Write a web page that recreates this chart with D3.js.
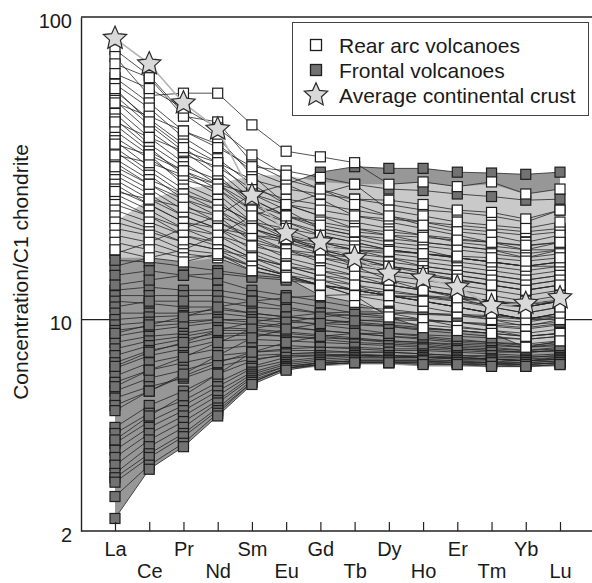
<!DOCTYPE html>
<html><head><meta charset="utf-8">
<script src="https://cdn.jsdelivr.net/npm/d3@7"></script>
<style>
html,body{margin:0;padding:0;background:#fff;}
svg{display:block;font-family:"Liberation Sans",Arial,Helvetica,sans-serif;}
</style></head>
<body>
<svg id="chart" width="592" height="583"></svg>
<script>
const elements = ["La","Ce","Pr","Nd","Sm","Eu","Gd","Tb","Dy","Ho","Er","Tm","Yb","Lu"];
const yTicks = [2, 10, 100];

const crustValues = [85, 70, 52, 42.6, 25.7, 19.3, 18, 16, 14.2, 13.7, 12.8, 11.1, 11.3, 11.8];

const rearFieldUpper = [21, 25, 27, 28, 30, 30, 28.5, 28, 28, 28.4, 27.5, 28, 26, 27];
const rearFieldLower = [16, 16, 15.5, 16, 14.5, 13.8, 12, 11.4, 10.2, 9.4, 9.2, 9, 8.1, 8.5];
const frontalFieldUpper = [16.5, 18, 20, 22, 26, 28, 30.7, 32, 31.6, 31.6, 30.7, 30.5, 30.2, 30.7];
const frontalFieldLower = [2.2, 3.2, 3.8, 4.8, 6.1, 6.8, 7.0, 7.1, 7.1, 7.0, 7.0, 6.95, 6.95, 7.0];

const rearArcSamples = [
  [78, 64, 48, 40, 30, 24, 22, 20, 19, 18, 17.5, 17, 16.5, 17],
  [74, 55, 56, 56, 44, 36, 34.5, 33, 28, 28.5, 27.5, 28.5, 26, 27],
  [70, 63, 47, 45, 33, 29, 27, 25, 24, 23, 22.6, 22, 21, 23],
  [63, 52, 42, 38, 31, 28, 25, 22, 21, 20, 19, 18, 17, 18],
  [60, 50, 40, 34, 28, 24, 22, 21, 20, 19, 18.5, 18, 17.5, 18],
  [57, 46, 38, 33, 26, 23, 20, 19, 18.5, 18, 17.5, 17, 16, 17],
  [55, 44, 36, 30, 24, 21, 19, 18, 17, 16.5, 16, 15.5, 15, 15.5],
  [53, 42, 35, 32, 27, 25, 24, 23, 22, 21, 20, 19.5, 19, 19.5],
  [50, 40, 33, 28, 23, 20, 18, 17, 16, 15, 14.5, 14, 13.5, 14],
  [48, 38, 32, 29, 25, 22, 21, 20, 19.5, 19, 18, 17.5, 17, 17],
  [46, 37, 30, 26, 21, 18.5, 17, 16, 15, 14.5, 14, 13.5, 13, 13.5],
  [44, 36, 31, 28, 24, 22, 20, 19, 18, 17.5, 17, 16.5, 16, 16.5],
  [42, 35, 28, 25, 20, 18, 16.5, 15.5, 14.5, 14, 13.5, 13, 12.5, 13],
  [40, 34, 29, 27, 23, 21, 19.5, 18.5, 17.5, 17, 16, 15.5, 15, 15.5],
  [39, 32, 27, 24, 21, 19, 18, 17, 16.5, 16, 15.5, 15, 14.5, 15],
  [37, 31, 26, 23, 19, 17, 15.5, 14.5, 14, 13.5, 13, 12.5, 12, 12.5],
  [36, 30, 25, 22, 18, 16, 15, 14, 13, 12.5, 12, 11.5, 11, 11.5],
  [34, 29, 26, 24, 21, 20, 19, 18, 17, 16.5, 16, 15.5, 15, 15],
  [33, 28, 24, 21, 18.5, 17, 16, 15, 14.5, 14, 13.5, 13, 12.5, 13],
  [31, 27, 23, 21, 19, 18, 17, 16.5, 16, 15.5, 15, 14.5, 14, 14.5],
  [30, 26, 22, 20, 17, 15.5, 14.5, 13.5, 13, 12.5, 12, 11.5, 11, 11.5],
  [29, 25, 22, 20, 18, 17, 16.5, 16, 15.5, 15, 14.5, 14, 13.5, 14],
  [28, 24, 21, 19, 16.5, 15, 14, 13, 12.5, 12, 11.5, 11, 10.5, 11],
  [27, 24, 21, 20, 19, 18.5, 18, 17.5, 17, 16.5, 16, 15.5, 15, 15.5],
  [26, 23, 20, 18, 16, 14.5, 13.5, 12.5, 12, 11.5, 11, 10.5, 10, 10.5],
  [25, 22, 19, 17.5, 15.5, 14, 13, 12.5, 12, 11.5, 11, 10.5, 10, 10.5],
  [24, 22, 20, 19, 17.5, 16.5, 16, 15.5, 15, 14.5, 14, 13.5, 13, 13.5],
  [23, 21, 19, 18, 16, 15, 14, 13.5, 13, 12.5, 12, 11.5, 11, 11.5],
  [22, 20, 18, 17, 15, 14, 13, 12, 11.5, 11, 10.5, 10, 9.5, 10],
  [21, 19.5, 18, 17, 16, 15, 14.5, 14, 13.5, 13, 12.5, 12, 11.5, 12],
  [20, 19, 17, 16.5, 15, 14, 13, 12.5, 12, 11.5, 11, 10.5, 10, 10],
  [19, 18, 16.5, 16, 14.5, 13.8, 12, 11.4, 10.5, 10, 9.5, 9.2, 8.8, 9],
  [18, 17, 16, 16.3, 15, 14, 13.5, 13, 12, 11.5, 11, 10.5, 10, 10.5],
  [17, 16, 15.5, 16.5, 14.5, 13.8, 13, 12, 10.2, 9.4, 9.2, 9, 8.1, 8.5],
  [45, 40, 36, 33, 29, 27, 26, 25, 24.8, 24, 23, 22.6, 21.5, 23],
  [35, 33, 30, 28, 26, 24, 23, 22, 21.5, 21, 20.5, 20, 19.5, 20],
  [52, 47, 42, 37, 32, 31, 29.5, 28, 23, 22, 21, 20.5, 20, 21],
  [65, 58, 50, 43, 35, 30, 27, 24, 22, 20.5, 19.5, 19, 18, 19],
  [38, 35, 31, 27, 22, 19, 17, 15, 13.5, 12.5, 11.8, 11, 10.5, 11],
  [32, 28, 25, 23, 20, 18.5, 17.5, 17, 16.8, 16.5, 16.2, 16, 15.6, 16],
  [58, 45, 37, 31, 25, 22, 20.5, 19.5, 19, 18.7, 18.3, 18, 17.6, 18],
  [26.5, 25, 23.5, 22, 20, 18.5, 17, 16, 15, 14.2, 13.6, 13, 12.5, 13]
];

const frontalSamples = [
  [16.5, 18, 20, 22, 26, 28, 30.7, 32, 31.6, 31.6, 30.7, 30.5, 30.2, 30.7],
  [15, 16, 17, 19, 22, 24, 26, 28, 27, 26.7, 26, 25.5, 24.8, 25],
  [15.7, 15.5, 15, 14.5, 14, 13.7, 13, 12.5, 12, 11.8, 11.5, 11.2, 11, 11.5],
  [14, 14.5, 14, 13.5, 12.5, 12, 11.5, 11, 10.8, 10.5, 10.3, 10, 9.8, 10.2],
  [12.5, 12.8, 12.5, 12.5, 12, 11.5, 11, 10.5, 10.2, 10, 9.8, 9.5, 9.3, 9.6],
  [12, 12, 12, 12, 11.5, 11, 10.5, 10, 9.8, 9.6, 9.4, 9.2, 9, 9.3],
  [11.5, 11.3, 11, 11, 10.5, 10.2, 10, 9.8, 9.6, 9.4, 9.2, 9, 8.8, 9],
  [11, 11.5, 11.5, 11.5, 11, 10.8, 10.5, 10.3, 10.1, 10, 9.8, 9.6, 9.4, 9.7],
  [10.5, 10.5, 10.5, 10.8, 10.5, 10.2, 10, 9.7, 9.5, 9.2, 9, 8.8, 8.6, 8.8],
  [10, 10.2, 10.3, 10.5, 10.2, 10, 9.6, 9.3, 9, 8.8, 8.6, 8.4, 8.3, 8.5],
  [9.6, 9.8, 9.9, 10, 9.8, 9.5, 9.2, 9, 8.8, 8.6, 8.4, 8.3, 8.1, 8.3],
  [9.2, 9.5, 9.7, 10, 10, 9.8, 9.7, 9.6, 9.5, 9.3, 9.2, 9, 8.8, 9],
  [8.8, 9.2, 9.5, 9.8, 9.6, 9.4, 9.2, 9, 8.8, 8.7, 8.5, 8.4, 8.2, 8.4],
  [8.4, 8.8, 9.0, 9.4, 9.3, 9.1, 8.9, 8.7, 8.5, 8.4, 8.2, 8.1, 7.9, 8.1],
  [8.0, 8.5, 8.8, 9.2, 9.2, 9.0, 8.8, 8.6, 8.4, 8.3, 8.1, 8, 7.9, 8],
  [7.6, 8.2, 8.6, 9.0, 9.0, 8.8, 8.6, 8.4, 8.3, 8.2, 8, 7.9, 7.8, 7.9],
  [7.2, 7.9, 8.3, 8.8, 8.9, 8.8, 8.7, 8.6, 8.5, 8.4, 8.3, 8.2, 8.1, 8.2],
  [6.9, 7.6, 8.0, 8.5, 8.6, 8.5, 8.4, 8.3, 8.2, 8.1, 8, 7.9, 7.8, 7.9],
  [6.5, 7.2, 7.6, 8.0, 8.2, 8.2, 8.1, 8.0, 7.9, 7.9, 7.8, 7.7, 7.6, 7.7],
  [6.2, 6.8, 7.2, 7.6, 7.8, 7.9, 7.9, 7.8, 7.8, 7.7, 7.6, 7.5, 7.5, 7.6],
  [5.8, 6.4, 6.8, 7.3, 7.6, 7.7, 7.7, 7.6, 7.6, 7.5, 7.5, 7.4, 7.3, 7.5],
  [5.5, 6.0, 6.4, 7.0, 7.4, 7.6, 7.6, 7.6, 7.5, 7.5, 7.4, 7.4, 7.3, 7.4],
  [5.2, 5.8, 6.5, 7.2, 7.8, 8.0, 8.1, 8.1, 8.0, 8.0, 7.9, 7.8, 7.8, 7.9],
  [4.4, 5.2, 5.8, 6.6, 7.3, 7.7, 7.8, 7.8, 7.8, 7.7, 7.6, 7.6, 7.5, 7.6],
  [4.2, 4.9, 5.4, 6.2, 7.0, 7.5, 7.6, 7.7, 7.6, 7.6, 7.5, 7.4, 7.4, 7.5],
  [3.9, 4.6, 5.2, 6.0, 6.9, 7.3, 7.5, 7.6, 7.6, 7.5, 7.5, 7.4, 7.3, 7.4],
  [3.7, 4.4, 5.0, 5.8, 6.7, 7.2, 7.4, 7.5, 7.5, 7.5, 7.4, 7.4, 7.3, 7.4],
  [3.5, 4.2, 4.8, 5.6, 6.6, 7.1, 7.3, 7.4, 7.4, 7.4, 7.3, 7.3, 7.2, 7.3],
  [3.3, 4.0, 4.6, 5.4, 6.5, 7.0, 7.2, 7.3, 7.3, 7.3, 7.3, 7.2, 7.2, 7.3],
  [3.1, 3.8, 4.4, 5.3, 6.4, 7.0, 7.2, 7.3, 7.3, 7.3, 7.2, 7.2, 7.1, 7.2],
  [3.0, 3.6, 4.2, 5.1, 6.3, 6.9, 7.1, 7.2, 7.2, 7.2, 7.2, 7.1, 7.1, 7.2],
  [2.9, 3.5, 4.1, 5.0, 6.2, 6.9, 7.1, 7.2, 7.2, 7.2, 7.1, 7.1, 7.0, 7.1],
  [2.6, 3.3, 3.9, 4.9, 6.2, 6.9, 7.2, 7.3, 7.3, 7.3, 7.2, 7.2, 7.1, 7.2],
  [2.2, 3.2, 3.8, 4.8, 6.1, 6.8, 7.1, 7.2, 7.2, 7.1, 7.1, 7.0, 7.0, 7.1],
  [7.0, 7.8, 8.4, 9.2, 9.8, 10.2, 10.5, 10.6, 10.6, 10.5, 10.4, 10.3, 10.1, 10.3],
  [6.0, 6.8, 7.5, 8.4, 9.3, 9.8, 10.2, 10.4, 10.5, 10.4, 10.3, 10.2, 10, 10.2],
  [5.0, 5.8, 6.6, 7.6, 8.7, 9.3, 9.7, 9.9, 10, 9.9, 9.8, 9.7, 9.6, 9.8],
  [9.0, 9.6, 10.2, 11, 11.5, 11.8, 12, 12.1, 12, 11.9, 11.7, 11.5, 11.3, 11.6],
  [13, 13.5, 14, 14.2, 13.8, 13.5, 13, 12.6, 12.3, 12, 11.8, 11.5, 11.2, 11.5],
  [4.0, 4.8, 5.6, 6.6, 7.8, 8.4, 8.8, 9.0, 9.0, 8.9, 8.8, 8.7, 8.6, 8.8]
];

const legendLabels = ["Rear arc volcanoes", "Frontal volcanoes", "Average continental crust"];

(function () {
const svg = d3.select("#chart");
const mLeft = 81, mRight = 592, mTop = 17, mBottom = 531;

const x = d3.scalePoint().domain(elements).range([115, 560]);
const y = d3.scaleLog().domain([2, 100]).range([mBottom, mTop]);

const starType = {
  draw(ctx, size) {
    const R = Math.sqrt(size), r = R * 0.47;
    for (let i = 0; i < 10; i++) {
      const a = -Math.PI / 2 + i * Math.PI / 5;
      const rad = i % 2 ? r : R;
      const px = rad * Math.cos(a), py = rad * Math.sin(a);
      if (i === 0) ctx.moveTo(px, py); else ctx.lineTo(px, py);
    }
    ctx.closePath();
  }
};

svg.append("line").attr("x1", mLeft).attr("x2", mRight)
  .attr("y1", y(10)).attr("y2", y(10)).attr("stroke", "#222").attr("stroke-width", 1.2);

const fieldArea = (lo, hi) => d3.area()
  .x((d, i) => x(elements[i]))
  .y0((d, i) => y(lo[i]))
  .y1((d, i) => y(hi[i]))(elements);

svg.append("path").attr("d", fieldArea(frontalFieldLower, frontalFieldUpper))
  .attr("fill", "#979797");
svg.append("path").attr("d", fieldArea(rearFieldLower, rearFieldUpper))
  .attr("fill", "#c9c9c9");

const line = d3.line().x((d, i) => x(elements[i])).y(d => y(d));
const gLines = svg.append("g").attr("fill", "none").attr("stroke", "#262626").attr("stroke-width", 0.8);
gLines.selectAll(".fl").data(frontalSamples).join("path").attr("class", "fl").attr("d", line);
gLines.selectAll(".rl").data(rearArcSamples).join("path").attr("class", "rl").attr("d", line);

const sq = 10;
function drawSquares(data, fill) {
  const pts = [];
  data.forEach(s => s.forEach((v, i) => pts.push([x(elements[i]), y(v)])));
  svg.append("g").selectAll("rect").data(pts).join("rect")
    .attr("x", d => d[0] - sq / 2).attr("y", d => d[1] - sq / 2)
    .attr("width", sq).attr("height", sq)
    .attr("fill", fill).attr("stroke", "#1e1e1e").attr("stroke-width", 1.2);
}
drawSquares(frontalSamples, "#727272");
drawSquares(rearArcSamples, "#ffffff");

svg.append("path").attr("d", line(crustValues))
  .attr("fill", "none").attr("stroke", "#b4b4b4").attr("stroke-width", 1.6);
const star = d3.symbol().type(starType).size(150);
svg.append("g").selectAll("path").data(crustValues).join("path")
  .attr("transform", (d, i) => `translate(${x(elements[i])},${y(d)})`)
  .attr("d", star).attr("fill", "#d9d9d9").attr("stroke", "#2a2a2a").attr("stroke-width", 1.2);

svg.append("line").attr("x1", mLeft).attr("x2", mRight).attr("y1", mTop).attr("y2", mTop)
  .attr("stroke", "#222").attr("stroke-width", 1.4);
svg.append("line").attr("x1", mLeft).attr("x2", mRight).attr("y1", mBottom).attr("y2", mBottom)
  .attr("stroke", "#222").attr("stroke-width", 1.4);

const yAxis = d3.axisLeft(y).tickValues(yTicks).tickFormat(d3.format("d"))
  .tickSize(0).tickSizeOuter(0).tickPadding(9);
const gy = svg.append("g").attr("transform", `translate(${mLeft},0)`).call(yAxis);
gy.select(".domain").attr("stroke", "#222").attr("stroke-width", 1.4);
gy.selectAll("text").attr("font-size", 20).attr("fill", "#1a1a1a")
  .attr("font-family", "Liberation Sans, Arial, sans-serif").attr("dy", "0.52em");

const xAxis = d3.axisBottom(x).tickSize(-9).tickSizeOuter(0).tickPadding(10);
const gx = svg.append("g").attr("transform", `translate(0,${mBottom})`).call(xAxis);
gx.select(".domain").remove();
gx.selectAll(".tick line").attr("stroke", "#222").attr("stroke-width", 1.2);
gx.selectAll("text").attr("font-size", 20).attr("fill", "#1a1a1a")
  .attr("font-family", "Liberation Sans, Arial, sans-serif")
  .attr("y", (d, i) => i % 2 ? 33 : 11).attr("dy", "0.71em");

svg.append("text").attr("transform", "translate(28,272) rotate(-90)")
  .attr("text-anchor", "middle").attr("font-size", 21).attr("fill", "#1a1a1a")
  .text("Concentration/C1 chondrite");

const lg = svg.append("g");
lg.append("rect").attr("x", 292.5).attr("y", 22.5).attr("width", 296).attr("height", 93)
  .attr("fill", "#fff").attr("stroke", "#444").attr("stroke-width", 1);
const ly = [45, 70, 95];
lg.append("rect").attr("x", 316 - 5.5).attr("y", ly[0] - 5.5).attr("width", 11).attr("height", 11)
  .attr("fill", "#fff").attr("stroke", "#1e1e1e").attr("stroke-width", 1.3);
lg.append("rect").attr("x", 316 - 5.5).attr("y", ly[1] - 5.5).attr("width", 11).attr("height", 11)
  .attr("fill", "#727272").attr("stroke", "#1e1e1e").attr("stroke-width", 1.3);
lg.append("path").attr("transform", `translate(316,${ly[2]})`).attr("d", star)
  .attr("fill", "#d9d9d9").attr("stroke", "#2a2a2a").attr("stroke-width", 1.2);
lg.selectAll("text.l").data(legendLabels).join("text").attr("class", "l")
  .attr("x", 339).attr("y", (d, i) => ly[i] + 7.5)
  .attr("font-size", 21).attr("fill", "#1a1a1a").text(d => d);
})();
</script>
</body></html>
